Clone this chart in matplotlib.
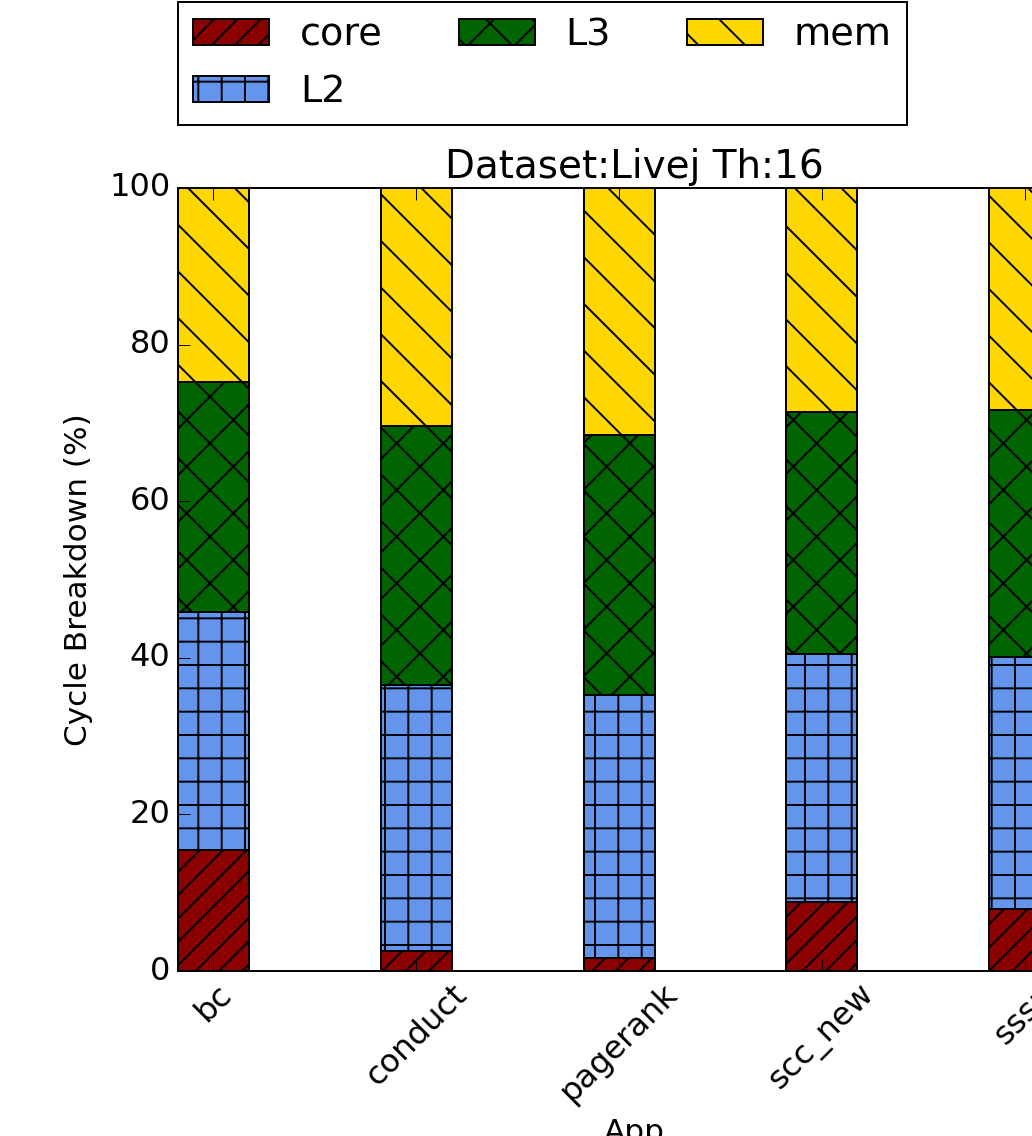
import numpy as np
import matplotlib
matplotlib.use('Agg')
import matplotlib.pyplot as plt

plt.style.use('classic')
plt.rcParams['font.size'] = 16
plt.rcParams['font.family'] = ['DejaVu Sans']

# cycle breakdown (%) per app, stacked bottom -> top
apps = ['bc', 'conduct', 'pagerank', 'scc_new', 'sssp']
core = [15.5, 2.6, 1.7, 8.8, 7.9]
L2 = [30.4, 33.9, 33.5, 31.7, 32.2]
L3 = [29.3, 33.1, 33.3, 30.9, 31.5]
mem = [24.8, 30.4, 31.5, 28.6, 28.4]

series = ['core', 'L2', 'L3', 'mem']
colors = ['#8B0000', '#6495ED', '#006400', '#FFD700']
hatches = ['//', '+', 'x', '\\']

fig = plt.figure(figsize=(1032/140., 1136/140.), dpi=140)
ax = fig.add_axes([178/1032., 165/1136., 912.6/1032., 783/1136.])

ind = np.arange(len(apps))
width = 0.35
bottom = np.zeros(len(apps))
for name, vals, c, h in zip(series, [core, L2, L3, mem], colors, hatches):
    ax.bar(ind, vals, width, bottom=bottom, align='edge', color=c,
           edgecolor='black', hatch=h, label=name)
    bottom += np.array(vals)

ax.set_xlim(0, 4.5)
ax.set_ylim(0, 100)
ax.set_yticks(np.arange(0, 101, 20))
ax.set_xticks(ind + width/2)
ax.set_xticklabels(apps, rotation=45)
ax.tick_params(which='major', length=6, labelsize=16.5)
ax.set_xlabel('App')
ax.set_ylabel('Cycle Breakdown (%)', labelpad=8)
ax.set_title('Dataset:Livej Th:16', fontsize=20)

ax.legend(loc='upper left', ncol=3, bbox_to_anchor=(178/1032., 1 - 2/1136.),
          bbox_transform=fig.transFigure, borderaxespad=0, fontsize=19.6,
          labelspacing=0.55)

fig.savefig('out.png', dpi=140)
